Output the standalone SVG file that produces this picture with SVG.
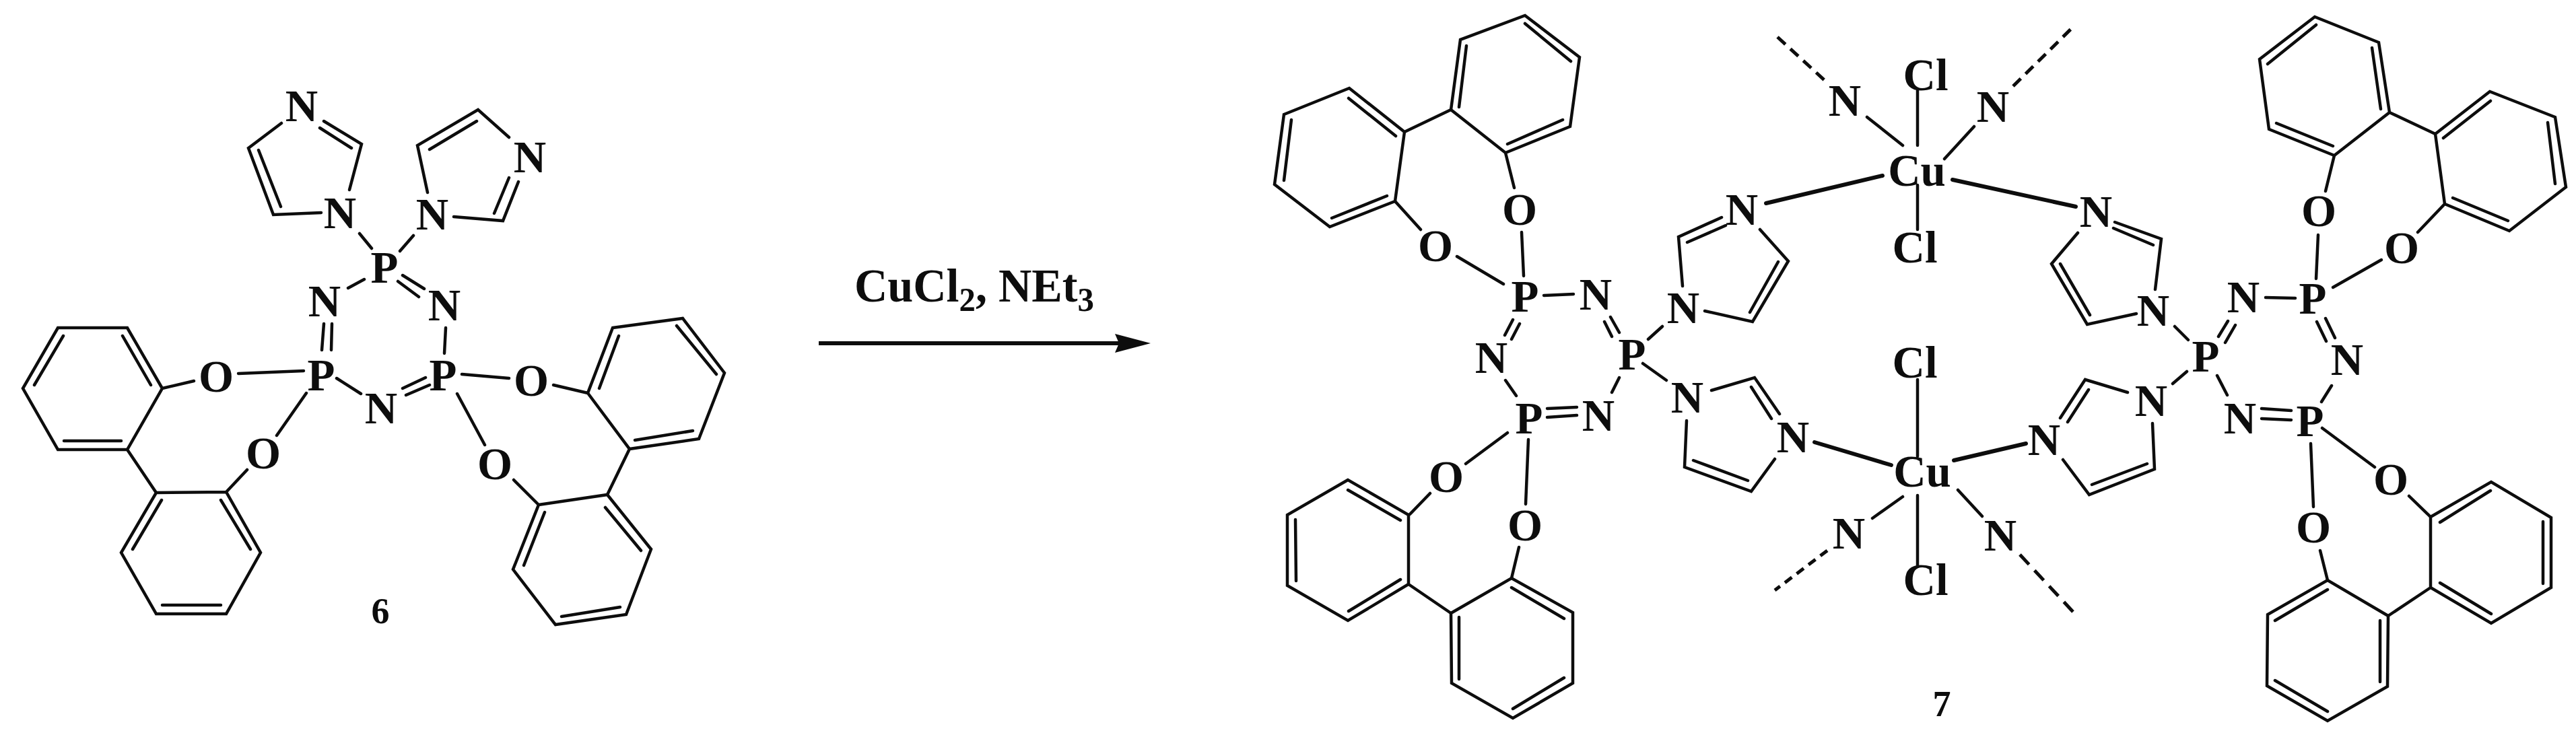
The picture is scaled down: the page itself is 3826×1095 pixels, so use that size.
<svg xmlns="http://www.w3.org/2000/svg" width="3826" height="1095" viewBox="0 0 3826 1095">
<style>
.b{fill:none;stroke:#0d0d0d;stroke-width:4.5;stroke-linecap:round;stroke-linejoin:miter}
.t{stroke-width:6}
.d{stroke-dasharray:16 10;stroke-linecap:butt;stroke-width:5}
.e{stroke-dasharray:20 12}
.f{stroke-dasharray:13 9}
text{font-family:"Liberation Serif","Times New Roman",serif;font-weight:bold;fill:#0d0d0d}
.a{font-size:67px;text-anchor:middle}
.n{font-size:54px;text-anchor:middle}
.r{font-size:70px}
.s{font-size:50px}
</style>
<defs><marker id="h" markerUnits="userSpaceOnUse" markerWidth="53" markerHeight="28" viewBox="0 0 53 28" refX="6" refY="14" orient="auto"><path d="M0 0L53 14L0 28L6 14Z" fill="#0d0d0d"/></marker></defs>
<rect width="3826" height="1095" fill="#fff"/>
<g id="connectors">
<g id="bonds-6">
<path class="b" d="M418 183L369 220L406 319L477 316M384 223L417 307M519 282L537 214L481 180M522 220L475 190"/>
<path class="b" d="M756 204L710 163L620 216L635 286M708 180L638 222M674 322L747 328L770 270M734 317L756 264"/>
<path class="b" d="M534 347L552 369M614 350L594 373M541 415L517 428M598 409L630 429M591 418L622 441M481 481L478 520M493 481L492 520M662 487L660 525M500 562L536 585M598 577L632 561M603 587L638 572"/>
<path class="b" d="M354 555L451 551M455 584L411 647M686 556L756 562M679 585L720 661"/>
<path class="b" d="M86 487H189L241 577L189 668H86L34 577ZM182 499L224 572M94 499L51 572M95 655H180M241 577L288 566M189 668L232 732"/>
<path class="b" d="M232 732L336 731L387 821L336 912H232L180 821ZM328 743L372 816M240 743L197 816M241 899H328M336 731L367 698"/>
<path class="b" d="M910 487L1014 473L1076 554L1038 652L935 667L873 584ZM919 499L890 577M1005 484L1064 556M1029 640L943 654M873 584L822 572M935 667L902 735"/>
<path class="b" d="M800 750L902 735L967 816L930 913L825 928L762 846ZM899 754L952 818M809 761L778 840M921 902L834 916M800 750L763 713"/>
</g>
<g id="arrow"><line x1="1216" y1="510" x2="1662" y2="510" stroke="#0d0d0d" stroke-width="6" marker-end="url(#h)"/></g>
<g id="bonds-7">
<path class="b" d="M2004 131L1907 170L1893 274L1975 337L2072 299L2086 196ZM2003 146L2073 202M1918 178L1907 268M1978 324L2060 291M2086 196L2155 163"/>
<path class="b" d="M2155 163L2169 59L2265 23L2346 85L2332 188L2236 227ZM2178 68L2167 159M2265 35L2333 91M2321 178L2239 214M2236 227L2249 279M2072 299L2110 341"/>
<path class="b" d="M2260 345L2263 410M2164 381L2233 422M2293 439L2337 437M2247 475L2235 498M2257 481L2245 504M2383 478L2394 500M2392 471L2405 494M2448 504L2469 485"/>
<path class="b" d="M2557 323L2493 352L2499 425M2563 335L2506 360M2532 462L2603 478L2656 388L2614 341M2599 464L2641 389"/>
<path class="b t" d="M2623 302L2796 261M2695 657L2809 691M2900 267L3083 307M2902 684L3009 659"/>
<path class="b" d="M2773 174L2826 216M2932 188L2888 236M2848 134V216M2848 275V341M2848 564V678M2848 736V841M2826 738L2781 770M2908 728L2944 767"/>
<path class="b d" d="M2640 55L2714 123M2990 128L3076 43"/>
<path class="b d f" d="M2714 818L2636 877"/>
<path class="b d e" d="M3000 824L3079 909"/>
<path class="b" d="M3141 330L3210 355L3201 430M3139 339L3198 364M3173 466L3100 482L3047 392L3086 346M3104 468L3060 392M3230 485L3250 505M3365 442L3409 443M3309 477L3295 500M3320 483L3305 509M3441 478L3455 507M3454 473L3468 502"/>
<path class="b" d="M3443 349L3440 414M3465 427L3537 386"/>
<path class="b" d="M3467 231L3370 192L3356 88L3438 25L3533 63L3549 167ZM3381 183L3465 217M3368 95L3440 37M3523 71L3536 162M3549 167L3617 199"/>
<path class="b" d="M3617 199L3698 136L3795 174L3811 278L3727 343L3631 303ZM3629 205L3699 150M3784 182L3795 273M3725 328L3643 294M3467 231L3454 284M3631 303L3591 345"/>
<path class="b" d="M2298 607L2342 605M2298 620L2342 617M2236 565L2252 588M2405 561L2394 583M2440 540L2475 565"/>
<path class="b" d="M2542 580L2606 561L2643 615M2601 575L2631 622M2505 625L2502 694L2601 730L2636 682M2515 684L2596 714"/>
<path class="b" d="M2239 643L2177 689M2124 733L2094 764M2270 653L2266 749M2256 813L2245 859"/>
<path class="b" d="M2002 713L1912 765V870L2002 922L2092 868V765ZM2002 728L2080 773M1924 772L1925 863M2003 908L2080 861M2092 868L2155 911"/>
<path class="b" d="M2155 911L2245 859L2336 910V1015L2247 1067L2156 1015ZM2245 873L2323 919M2167 917V1009M2323 1007L2247 1053"/>
<path class="b" d="M3160 583L3097 564L3060 621M3102 579L3071 627M3197 629L3200 697L3103 735L3064 683M3189 689L3107 720M3227 570L3248 552M3293 558L3308 587M3463 573L3448 597M3359 607L3403 610M3359 622L3403 624"/>
<path class="b" d="M3449 636L3527 694M3432 659L3436 753M3578 737L3610 768M3446 818L3457 862"/>
<path class="b" d="M3610 768L3700 716L3789 769V873L3700 926L3610 873ZM3624 776L3699 729M3777 775V867M3624 866L3700 912M3610 873L3547 915"/>
<path class="b" d="M3547 915L3457 862L3368 913L3367 1019L3457 1071L3546 1020ZM3457 876L3379 922M3379 1011L3457 1057M3535 1013V922"/>
</g>
</g>
<g id="reagent"><text class="r" x="1269" y="448" textLength="356" lengthAdjust="spacingAndGlyphs">CuCl<tspan class="s" y="462">2</tspan><tspan y="448">, NEt</tspan><tspan class="s" y="462">3</tspan></text></g>
<g id="m6-N1"><text class="a" x="448" y="180">N</text></g>
<g id="m6-N2"><text class="a" x="505" y="339">N</text></g>
<g id="m6-N3"><text class="a" x="642" y="341">N</text></g>
<g id="m6-N4"><text class="a" x="787" y="256">N</text></g>
<g id="m6-P1"><text class="a" x="571" y="420">P</text></g>
<g id="m6-N5"><text class="a" x="482" y="470">N</text></g>
<g id="m6-N6"><text class="a" x="660" y="476">N</text></g>
<g id="m6-P2"><text class="a" x="477" y="580">P</text></g>
<g id="m6-P3"><text class="a" x="658" y="580">P</text></g>
<g id="m6-N7"><text class="a" x="566" y="629">N</text></g>
<g id="m6-O1"><text class="a" x="321" y="582">O</text></g>
<g id="m6-O2"><text class="a" x="391" y="696">O</text></g>
<g id="m6-O3"><text class="a" x="789" y="588">O</text></g>
<g id="m6-O4"><text class="a" x="735" y="712">O</text></g>
<g id="label-6"><text class="n" x="565" y="926">6</text></g>
<g id="m7-O1"><text class="a" x="2257" y="334">O</text></g>
<g id="m7-O2"><text class="a" x="2132" y="388">O</text></g>
<g id="m7-P1"><text class="a" x="2265" y="463">P</text></g>
<g id="m7-N1"><text class="a" x="2370" y="460">N</text></g>
<g id="m7-N2"><text class="a" x="2215" y="554">N</text></g>
<g id="m7-P2"><text class="a" x="2424" y="549">P</text></g>
<g id="m7-N3"><text class="a" x="2500" y="480">N</text></g>
<g id="m7-N4"><text class="a" x="2587" y="334">N</text></g>
<g id="m7-Cu1"><text class="a" x="2847" y="276">Cu</text></g>
<g id="m7-Cl1"><text class="a" x="2860" y="134">Cl</text></g>
<g id="m7-Cl2"><text class="a" x="2844" y="390">Cl</text></g>
<g id="m7-N5"><text class="a" x="2740" y="172">N</text></g>
<g id="m7-N6"><text class="a" x="2960" y="181">N</text></g>
<g id="m7-N7"><text class="a" x="3113" y="337">N</text></g>
<g id="m7-N8"><text class="a" x="3198" y="484">N</text></g>
<g id="m7-P3"><text class="a" x="3276" y="552">P</text></g>
<g id="m7-N9"><text class="a" x="3332" y="464">N</text></g>
<g id="m7-P4"><text class="a" x="3435" y="466">P</text></g>
<g id="m7-N10"><text class="a" x="3486" y="557">N</text></g>
<g id="m7-O3"><text class="a" x="3444" y="336">O</text></g>
<g id="m7-O4"><text class="a" x="3567" y="391">O</text></g>
<g id="m7-P5"><text class="a" x="2271" y="644">P</text></g>
<g id="m7-N11"><text class="a" x="2374" y="640">N</text></g>
<g id="m7-N12"><text class="a" x="2506" y="613">N</text></g>
<g id="m7-N13"><text class="a" x="2663" y="672">N</text></g>
<g id="m7-Cu2"><text class="a" x="2855" y="723">Cu</text></g>
<g id="m7-Cl3"><text class="a" x="2844" y="561">Cl</text></g>
<g id="m7-Cl4"><text class="a" x="2860" y="884">Cl</text></g>
<g id="m7-N14"><text class="a" x="2746" y="815">N</text></g>
<g id="m7-N15"><text class="a" x="2971" y="818">N</text></g>
<g id="m7-O5"><text class="a" x="2148" y="731">O</text></g>
<g id="m7-O6"><text class="a" x="2265" y="803">O</text></g>
<g id="m7-N16"><text class="a" x="3036" y="676">N</text></g>
<g id="m7-N17"><text class="a" x="3195" y="618">N</text></g>
<g id="m7-N18"><text class="a" x="3327" y="644">N</text></g>
<g id="m7-P6"><text class="a" x="3431" y="648">P</text></g>
<g id="m7-O7"><text class="a" x="3551" y="735">O</text></g>
<g id="m7-O8"><text class="a" x="3436" y="806">O</text></g>
<g id="label-7"><text class="n" x="2884" y="1064">7</text></g>
</svg>
